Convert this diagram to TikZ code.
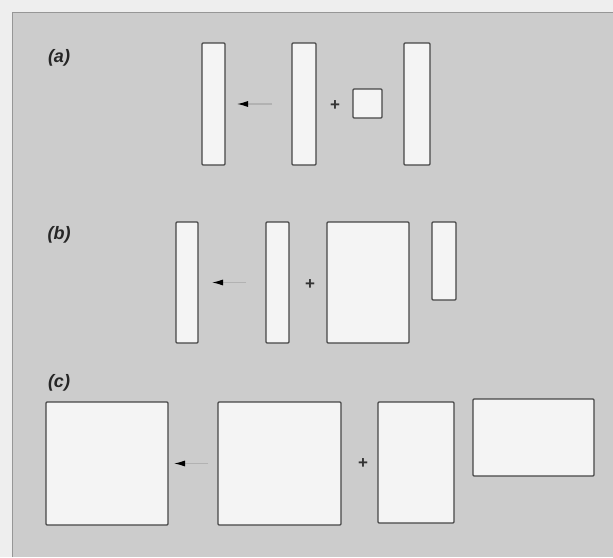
\documentclass[tikz,border=0pt]{standalone}
\usepackage{fontspec}
\setmainfont{Liberation Sans}
\usetikzlibrary{arrows.meta}
\definecolor{paper}{RGB}{238,238,238}
\definecolor{panel}{RGB}{204,204,204}
\definecolor{paneledge}{RGB}{150,150,150}
\definecolor{boxfill}{RGB}{244,244,244}
\definecolor{boxedge}{RGB}{70,70,70}
\tikzset{
  box/.style={draw=boxedge, fill=boxfill, line width=1.3pt, rounded corners=1pt,
    inner sep=0pt, outer sep=0pt},
  tag/.style={font=\fontsize{18}{18}\selectfont\bfseries\itshape, text=black!85, inner sep=0pt},
  plus/.style={font=\fontsize{17}{17}\selectfont\bfseries, text=black!80, inner sep=0pt},
  shiftarrow/.style={draw=black!30, line width=1.2pt,
    -{Latex[length=11pt,width=6pt,black]}}
}
\newcommand{\mybox}[5]{% name, x1, y1, x2, y2
  \node[box, minimum width={(#4-#2)*1pt}, minimum height={(#5-#3)*1pt}]
    (#1) at ({(#2+#4)/2},{(#3+#5)/2}) {};}
\begin{document}
\begin{tikzpicture}[x=1pt, y=-1pt]
  % page and grey panel
  \fill[paper] (0,0) rectangle (613,557);
  \useasboundingbox (0,0) rectangle (613,557);
  \fill[panel] (12,12) rectangle (613,557);
  \draw[paneledge, line width=1pt] (12,557) -- (12,12) -- (613,12);

  % row (a)
  \node[tag] (la) at (59,58) {(a)};
  \mybox{a1}{202}{43}{225}{165}
  \mybox{a2}{292}{43}{316}{165}
  \mybox{a3}{353}{89}{382}{118}
  \mybox{a4}{404}{43}{430}{165}
  \draw[shiftarrow, shorten <=20pt, shorten >=12pt] (a2.west) -- (a1.east);
  \node[plus] (pa) at (335,106) {+};

  % row (b)
  \node[tag] (lb) at (59,235) {(b)};
  \mybox{b1}{176}{222}{198}{343}
  \mybox{b2}{266}{222}{289}{343}
  \mybox{b3}{327}{222}{409}{343}
  \mybox{b4}{432}{222}{456}{300}
  \draw[shiftarrow, shorten <=20pt, shorten >=14pt] (b2.west) -- (b1.east);
  \node[plus] (pb) at (310,285) {+};

  % row (c)
  \node[tag] (lc) at (59,383) {(c)};
  \mybox{c1}{46}{402}{168}{525}
  \mybox{c2}{218}{402}{341}{525}
  \mybox{c3}{378}{402}{454}{523}
  \mybox{c4}{473}{399}{594}{476}
  \draw[shiftarrow, shorten <=10pt, shorten >=6pt] (c2.west) -- (c1.east);
  \node[plus] (pc) at (363,464) {+};
\end{tikzpicture}
\end{document}
